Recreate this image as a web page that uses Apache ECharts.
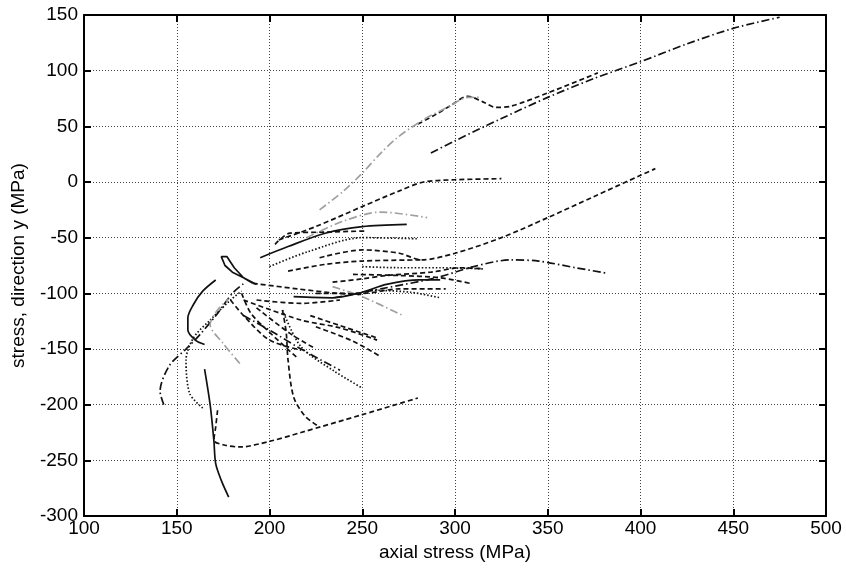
<!DOCTYPE html>
<html><head><meta charset="utf-8">
<script src="https://cdn.jsdelivr.net/npm/echarts@6/dist/echarts.min.js"></script>
<style>html,body{margin:0;padding:0;background:#fff}#c{width:846px;height:568px}</style>
</head><body><div id="c"></div>
<script>
// axis ticks
const xTicks = [100,150,200,250,300,350,400,450,500];
const yTicks = [-300,-250,-200,-150,-100,-50,0,50,100,150];

// curves: [axial stress, stress direction y]
const curveA = [[287,26],[300,37],[325,57],[350,76],[375,93],[400,108],[425,124],[450,138],[475,148]];
const curveB = [[280,52],[290,61],[297,68],[307,77],[315,72],[322,67],[330,68],[350,80],[377,98]];
const curveC = [[227,-25],[240,-8],[250,8],[260,26],[269,40],[283,56],[297,68],[307,76],[313,76]];
const curveD = [[205,-52],[225,-40],[250,-22],[270,-8],[283,0],[300,2],[325,3]];
const curveE = [[195,-68],[210,-58],[230,-46],[250,-40],[274,-38]];
const curveF = [[203,-56],[211,-46],[230,-45],[252,-44]];
const curveG = [[220,-50],[240,-35],[260,-27],[285,-32]];
const curveH = [[200,-76],[220,-63],[250,-50],[280,-51]];
const curveI1 = [[227,-68],[250,-61],[270,-64],[282,-70],[300,-64],[325,-50],[350,-32],[375,-13],[400,6],[408,12]];
const curveI2 = [[210,-80],[230,-74],[250,-71],[282,-70]];
const curveK1 = [[234,-90],[250,-87],[263,-84],[287,-81],[303,-77],[315,-78]];
const curveJ = [[213,-103],[234,-104],[250,-99],[263,-92],[281,-88],[292,-88]];
const curveK = [[225,-100],[250,-100],[270,-96],[295,-96]];
const curveGray2 = [[234,-94],[250,-103],[272,-120]];
const curveL = [[235,-104],[260,-96],[290,-86],[310,-76],[330,-70],[345,-71],[365,-77],[382,-82]];
const curveM = [[245,-83],[270,-84],[292,-86],[308,-91]];
const curveN = [[250,-76],[270,-77],[292,-77],[315,-78]];
const curveO = [[255,-97],[276,-99],[292,-104]];
const curveLoop = [[193,-92],[186,-86],[180,-81],[176,-75],[174,-67],[177,-67],[181,-77],[186,-86],[191,-91]];
const curveLoopTail = [[191,-91],[215,-96],[237,-100],[250,-101]];
const curveP = [[171,-88],[164,-98],[159,-110],[156,-122],[156,-133],[160,-142],[165,-146]];
const curveQ = [[165,-168],[168,-200],[170,-232],[171,-253],[174,-268],[178,-283]];
const curveR = [[172,-205],[171,-220],[170,-232],[175,-236],[184,-238],[200,-233],[217,-225],[250,-209],[280,-194]];
const curveS = [[207,-115],[209,-135],[210,-160],[213,-193],[219,-210],[226,-219]];
const curveT = [[143,-200],[141,-188],[146,-165],[155,-150],[162,-138],[172,-118],[180,-100],[187,-90]];
const curveU = [[164,-203],[157,-190],[155,-160],[159,-140],[168,-124],[179,-106],[185,-98]];
const curveV = [[184,-163],[175,-145],[168,-128],[172,-115],[178,-105]];
const curveW1 = [[185,-100],[190,-118],[200,-135],[215,-158]];
const curveW2 = [[179,-106],[186,-120],[200,-142],[217,-151]];
const curveW3 = [[186,-120],[200,-133],[218,-151],[238,-169]];
const curveW4 = [[193,-106],[217,-109],[238,-106]];
const curveW5 = [[222,-120],[238,-129],[258,-140]];
const curveW6 = [[186,-106],[217,-124],[238,-131],[258,-142]];
const curveW7 = [[193,-113],[211,-136],[225,-150]];
const curveW8 = [[207,-115],[217,-148],[235,-170],[250,-185]];
const curveW9 = [[225,-130],[245,-143],[260,-157]];

const SOLID='solid', DASH=[5,3], DOT=[1.5,2], DDOT=[8,3,1.5,3];
const K='#111', GR='#a0a0a0';
const styles = [
 [curveA,DDOT,K],[curveB,DASH,K],[curveC,DDOT,GR],[curveD,DASH,K],[curveE,SOLID,K],
 [curveF,DASH,K],[curveG,DDOT,GR],[curveH,DOT,K],[curveI1,DASH,K],[curveI2,DASH,K],
 [curveK1,DASH,K],[curveJ,SOLID,K],[curveK,DASH,K],[curveGray2,DDOT,GR],[curveL,DDOT,K],
 [curveM,DASH,K],[curveN,DOT,K],[curveO,DOT,K],[curveLoop,SOLID,K],[curveLoopTail,DASH,K],
 [curveP,SOLID,K],[curveQ,SOLID,K],[curveR,DASH,K],[curveS,DASH,K],[curveT,DDOT,K],
 [curveU,DOT,K],[curveV,DDOT,GR],[curveW1,DASH,K],[curveW2,DASH,K],[curveW3,DDOT,K],
 [curveW4,DASH,K],[curveW5,DASH,K],[curveW6,DASH,K],[curveW7,DASH,K],[curveW8,DOT,K],[curveW9,DASH,K]
];

const font = 'Liberation Sans, Arial, Helvetica, sans-serif';
const series = styles.map(([d,t,c])=>({
  type:'line', data:d, showSymbol:false, smooth: d===curveLoop?false:0.3,
  lineStyle:{color:c, width:1.7, type:t}, silent:true, animation:false
}));

const axisCommon = {
  axisLine:{show:true,onZero:false,lineStyle:{color:'#000',width:2}},
  axisTick:{show:true,inside:true,length:7,lineStyle:{color:'#000',width:2}},
};
const chart = echarts.init(document.getElementById('c'));
chart.setOption({
  animation:false,
  grid:{left:84,right:20,top:15,bottom:52,containLabel:false},
  xAxis:[
    Object.assign({type:'value',min:xTicks[0],max:xTicks[xTicks.length-1],interval:50,position:'bottom',
      name:'axial stress (MPa)',nameLocation:'middle',nameGap:25,
      nameTextStyle:{fontFamily:font,fontSize:19,color:'#000'},
      axisLabel:{fontFamily:font,fontSize:19,color:'#000',margin:3},
      splitLine:{show:true,lineStyle:{color:'#444',width:1,type:[1,2]}}},axisCommon),
    Object.assign({type:'value',min:xTicks[0],max:xTicks[xTicks.length-1],interval:50,position:'top',
      axisLabel:{show:false},splitLine:{show:false}},axisCommon)
  ],
  yAxis:[
    Object.assign({type:'value',min:yTicks[0],max:yTicks[yTicks.length-1],interval:50,position:'left',
      name:'stress, direction y (MPa)',nameLocation:'middle',nameGap:56,
      nameTextStyle:{fontFamily:font,fontSize:19,color:'#000'},
      axisLabel:{fontFamily:font,fontSize:19,color:'#000',margin:6},
      splitLine:{show:true,lineStyle:{color:'#444',width:1,type:[1,2]}}},axisCommon),
    Object.assign({type:'value',min:yTicks[0],max:yTicks[yTicks.length-1],interval:50,position:'right',
      axisLabel:{show:false},splitLine:{show:false}},axisCommon)
  ],
  series: series
});
</script></body></html>
